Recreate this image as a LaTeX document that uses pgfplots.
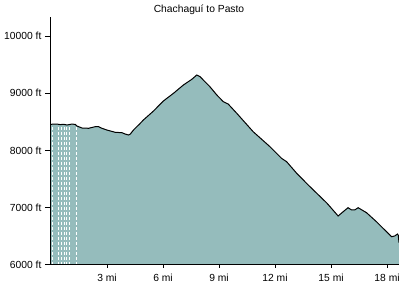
\documentclass[border=0pt]{standalone}
\usepackage{fontspec}
\setmainfont{Liberation Sans}
\usepackage{pgfplots}
\usepackage{pgfplotstable}
\pgfplotsset{compat=1.18}
\definecolor{fillc}{RGB}{149,188,188}
\pgfplotstableread{
x y
0 8458
0.32 8462
0.50 8452
0.67 8458
0.86 8445
1.12 8462
1.30 8455
1.39 8428
1.66 8393
2.01 8388
2.37 8416
2.55 8416
2.73 8388
2.99 8358
3.44 8318
3.80 8311
3.97 8288
4.15 8271
4.24 8285
4.42 8358
4.78 8475
4.95 8533
5.49 8690
6.02 8865
6.56 8999
7.09 9144
7.54 9243
7.81 9319
7.98 9290
8.51 9115
8.88 8970
9.23 8853
9.49 8812
9.95 8650
10.83 8328
11.73 8066
12.35 7863
12.62 7805
13.16 7602
13.78 7397
14.79 7077
15.38 6856
15.65 6931
15.91 7001
16.10 6961
16.27 6961
16.45 7001
16.90 6914
17.43 6757
17.97 6582
18.24 6494
18.41 6507
18.56 6541
18.60 6520
18.64 6390
}\profile
\begin{document}
\begin{tikzpicture}
\path[use as bounding box] (0pt,0pt) rectangle (400pt,300pt);
\node[anchor=base,font=\fontsize{10.3}{12}\selectfont] at (199pt,287.5pt) {Chachaguí to Pasto};
\begin{axis}[
  at={(51pt,35pt)}, anchor=south west,
  scale only axis, width=348pt, height=248pt,
  xmin=0, xmax=18.64, ymin=6000, ymax=10332,
  scaled y ticks=false, scaled x ticks=false,
  axis lines*=left, axis on top,
  axis line style={black, line width=1pt},
  tick align=outside,
  xtick pos=bottom, ytick pos=left,
  tick style={black, line width=1pt},
  major tick length=6pt,
  font=\fontsize{10.3}{12}\selectfont,
  xtick={3,6,9,12,15,18},
  xticklabels={3 mi,6 mi,9 mi,12 mi,15 mi,18 mi},
  ytick={6000,7000,8000,9000,10000},
  yticklabels={6000 ft,7000 ft,8000 ft,9000 ft,10000 ft},
  x tick style={/pgfplots/major tick length=3pt},
  clip=true,
]
\addplot[fill=fillc, draw=none] table {\profile} \closedcycle;
\addplot[white, line width=0.8pt, dash pattern=on 3pt off 2pt] coordinates {(0.09,6000) (0.09,8440)};
\addplot[white, line width=0.8pt, dash pattern=on 3pt off 2pt] coordinates {(0.41,6000) (0.41,8440)};
\addplot[white, line width=0.8pt, dash pattern=on 3pt off 2pt] coordinates {(0.55,6000) (0.55,8440)};
\addplot[white, line width=0.8pt, dash pattern=on 3pt off 2pt] coordinates {(0.70,6000) (0.70,8440)};
\addplot[white, line width=0.8pt, dash pattern=on 3pt off 2pt] coordinates {(0.83,6000) (0.83,8440)};
\addplot[white, line width=0.8pt, dash pattern=on 3pt off 2pt] coordinates {(0.98,6000) (0.98,8440)};
\addplot[white, line width=0.8pt, dash pattern=on 3pt off 2pt] coordinates {(1.37,6000) (1.37,8440)};
\addplot[black, line width=1pt] table {\profile};
\end{axis}
\end{tikzpicture}
\end{document}
